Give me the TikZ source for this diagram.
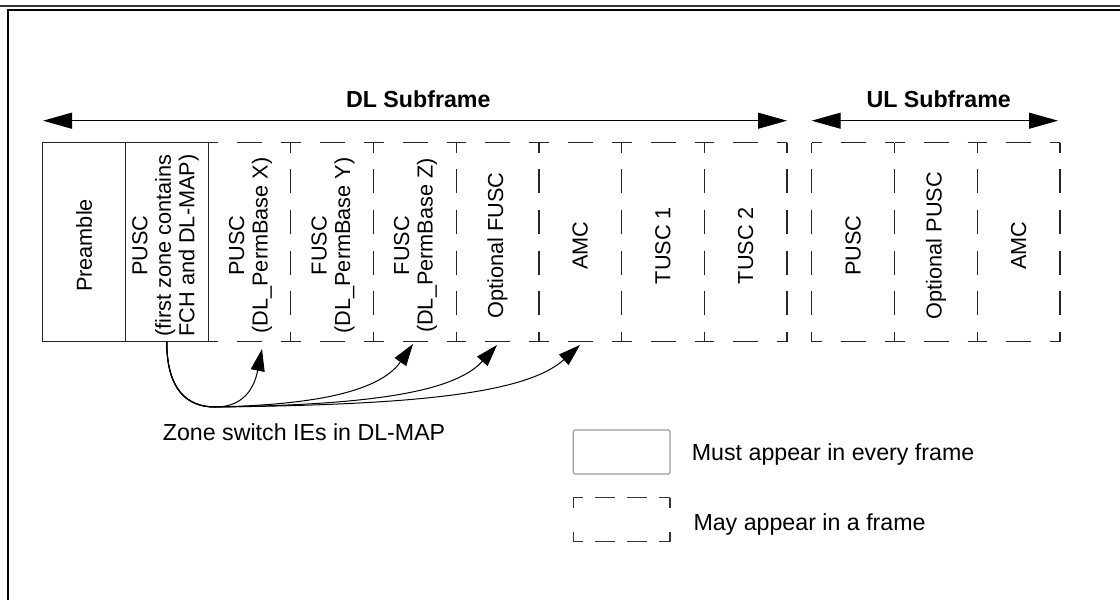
\documentclass[tikz,border=0pt]{standalone}
\usepackage{fontspec}
\setmainfont{Liberation Sans}
\usetikzlibrary{arrows.meta}
\begin{document}
\begin{tikzpicture}[x=1pt,y=-1pt,
  cellbox/.style={rectangle, inner sep=0pt, outer sep=0pt, minimum width=82.7pt, minimum height=199pt},
  solidcell/.style={cellbox, draw=black!85, line width=1.2pt},
  hd/.style={draw=black!85, line width=1.2pt, dash pattern=on 25pt off 19pt, dash phase=15pt},
  vd/.style={draw=black!85, line width=1.2pt, dash pattern=on 24pt off 16.6pt, dash phase=14pt},
  lhd/.style={draw=black!80, line width=1.1pt, dash pattern=on 20pt off 12pt, dash phase=10pt},
  lvd/.style={draw=black!80, line width=1.1pt, dash pattern=on 20pt off 24pt, dash phase=10pt},
  celltext/.style={rotate=90, align=center, inner sep=0pt, font=\fontsize{21.7}{23.5}\selectfont},
  hdrtext/.style={font=\fontsize{23.2}{26}\selectfont\bfseries, inner sep=0pt},
  normtext/.style={font=\fontsize{23.2}{26}\selectfont, inner sep=0pt, anchor=base west},
  spanarrow/.style={line width=1.1pt, {Triangle[length=29pt,width=16pt]}-{Triangle[length=29pt,width=16pt]}},
  zsw/.style={line width=1pt, -{Triangle[length=22pt,width=14pt]}},
]
\useasboundingbox (0,0) rectangle (1120,600);
\fill[white] (0,0) rectangle (1120,600);

% outer frame
\draw[line width=2pt, black!80] (0,5.8) -- (1120,5.8);
\draw[line width=2pt] (8.3,600) -- (8.3,10.2) -- (1120,10.2);

% DL cells
\node[solidcell] (c1) at (84.05,242.2) {};
\node[solidcell] (c2) at (166.75,242.2) {};
\node[cellbox] (c3) at (249.45,242.2) {};
\node[cellbox] (c4) at (332.15,242.2) {};
\node[cellbox] (c5) at (414.85,242.2) {};
\node[cellbox] (c6) at (497.55,242.2) {};
\node[cellbox] (c7) at (580.25,242.2) {};
\node[cellbox] (c8) at (662.95,242.2) {};
\node[cellbox] (c9) at (745.65,242.2) {};
% UL cells
\node[cellbox] (u1) at (853.1,242.2) {};
\node[cellbox] (u2) at (935.9,242.2) {};
\node[cellbox] (u3) at (1018.7,242.2) {};

\foreach \n in {c3,c4,c5,c6,c7,c8,c9,u1,u2,u3}{
  \draw[hd] (\n.north west) -- (\n.north east);
  \draw[hd] (\n.south west) -- (\n.south east);
  \draw[vd] (\n.north west) -- (\n.south west);
  \draw[vd] (\n.north east) -- (\n.south east);
}

% cell texts
\node[celltext] (l1) at (84.05,245.5) {Preamble};
\node[celltext] (l2) at (165.5,245.5) {PUSC\\(first zone contains\\FCH and DL-MAP)};
\node[celltext] (l3) at (250.5,245.5) {PUSC\\(DL\_PermBase X)};
\node[celltext] (l4) at (333,245.5) {FUSC\\(DL\_PermBase Y)};
\node[celltext] (l5) at (415.5,245.5) {FUSC\\(DL\_PermBase Z)};
\node[celltext] (l6) at (497.55,245.5) {Optional FUSC};
\node[celltext] (l7) at (580.25,245.5) {AMC};
\node[celltext] (l8) at (662.95,245.5) {TUSC 1};
\node[celltext] (l9) at (745.65,245.5) {TUSC 2};
\node[celltext] (m1) at (853.1,245.5) {PUSC};
\node[celltext] (m2) at (935.9,245.5) {Optional PUSC};
\node[celltext] (m3) at (1018.7,245.5) {AMC};

% subframe spans
\node[hdrtext] (dlt) at (418.3,99.5) {DL Subframe};
\node[hdrtext] (ult) at (938.7,99.5) {UL Subframe};
\coordinate (dlL) at (43,120.7);
\coordinate (dlR) at (787,120.7);
\coordinate (ulL) at (811.7,120.7);
\coordinate (ulR) at (1058,120.7);
\draw[spanarrow] (dlL) -- (dlR);
\draw[spanarrow] (ulL) -- (ulR);

% zone switch arrows
\coordinate (hub) at (215,407);
\coordinate (z1) at (262,349);
\coordinate (z2) at (413,344);
\coordinate (z3) at (497,345);
\coordinate (z4) at (580,345);
\draw[zsw] (c2.south) .. controls +(0,48) and +(-28,0) .. (hub) .. controls +(28,0) and +(-8,40) .. (z1);
\draw[zsw] (c2.south) .. controls +(0,48) and +(-28,0) .. (hub) .. controls +(90,-2) and +(-35,50) .. (z2);
\draw[zsw] (c2.south) .. controls +(0,48) and +(-28,0) .. (hub) .. controls +(140,-2) and +(-45,50) .. (z3);
\draw[zsw] (c2.south) .. controls +(0,48) and +(-28,0) .. (hub) .. controls +(190,-2) and +(-55,50) .. (z4);
\node[normtext] (zl) at (162.7,440) {Zone switch IEs in DL-MAP};

% legend
\node[draw=gray!75, line width=1.3pt, rounded corners=1.5pt, minimum width=96.7pt, minimum height=44pt, inner sep=0pt, outer sep=0pt] (lgs) at (621.65,452) {};
\node[inner sep=0pt, outer sep=0pt, minimum width=96.7pt, minimum height=44pt] (lgd) at (621.65,519.5) {};
\draw[lhd] (lgd.north west) -- (lgd.north east);
\draw[lhd] (lgd.south west) -- (lgd.south east);
\draw[lvd] (lgd.north west) -- (lgd.south west);
\draw[lvd] (lgd.north east) -- (lgd.south east);
\node[normtext] (lt1) at (691.7,460.7) {Must appear in every frame};
\node[normtext] (lt2) at (693.3,530) {May appear in a frame};
\end{tikzpicture}
\end{document}
